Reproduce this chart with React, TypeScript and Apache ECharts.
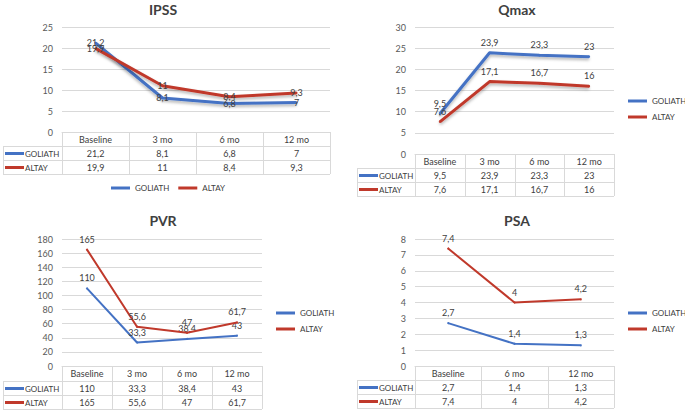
import React, { useEffect, useRef } from 'react';
import * as echarts from 'echarts';

const ipssCategories = ['Baseline', '3 mo', '6 mo', '12 mo'];
const ipssGoliath = [21.2, 8.1, 6.8, 7];
const ipssAltay = [19.9, 11, 8.4, 9.3];

const qmaxCategories = ['Baseline', '3 mo', '6 mo', '12 mo'];
const qmaxGoliath = [9.5, 23.9, 23.3, 23];
const qmaxAltay = [7.6, 17.1, 16.7, 16];

const pvrCategories = ['Baseline', '3 mo', '6 mo', '12 mo'];
const pvrGoliath = [110, 33.3, 38.4, 43];
const pvrAltay = [165, 55.6, 47, 61.7];

const psaCategories = ['Baseline', '6 mo', '12 mo'];
const psaGoliath = [2.7, 1.4, 1.3];
const psaAltay = [7.4, 4, 4.2];

const seriesNames = ['GOLIATH', 'ALTAY'];
const seriesColors = ['#4472C4', '#C0392B'];

const FONT = 'Lato, "Open Sans", sans-serif';
const TEXT = '#404040';
const GRID_LINE = '#d9d9d9';

const fmt = (v: number) => String(v).replace('.', ',');

type Panel = {
  title: string;
  cats: string[];
  data: number[][];
  yMax: number;
  yInterval: number;
  grid: { left: number; top: number; width: number; height: number };
  rows: number[];
  tableLeft: number;
  titleX: number;
  titleY: number;
  labelPos: string;
  lineWidth: number;
  shadow: boolean;
  legend: any;
};

const panels: Panel[] = [
  {
    title: 'IPSS', cats: ipssCategories, data: [ipssGoliath, ipssAltay], yMax: 25, yInterval: 5,
    grid: { left: 62, top: 27, width: 268, height: 105 }, rows: [132, 146, 160, 174], tableLeft: 3,
    titleX: 163, titleY: 9, labelPos: 'inside', lineWidth: 3, shadow: true,
    legend: { orient: 'horizontal', left: 111, top: 184 },
  },
  {
    title: 'Qmax', cats: qmaxCategories, data: [qmaxGoliath, qmaxAltay], yMax: 30, yInterval: 5,
    grid: { left: 415, top: 27, width: 199, height: 127 }, rows: [154, 168, 182, 196], tableLeft: 357,
    titleX: 517, titleY: 9, labelPos: 'top', lineWidth: 3, shadow: true,
    legend: { orient: 'vertical', left: 628, top: 97 },
  },
  {
    title: 'PVR', cats: pvrCategories, data: [pvrGoliath, pvrAltay], yMax: 180, yInterval: 20,
    grid: { left: 62, top: 239, width: 200, height: 127 }, rows: [366, 381, 395, 409], tableLeft: 3,
    titleX: 163, titleY: 220, labelPos: 'top', lineWidth: 2, shadow: false,
    legend: { orient: 'vertical', left: 276, top: 309 },
  },
  {
    title: 'PSA', cats: psaCategories, data: [psaGoliath, psaAltay], yMax: 8, yInterval: 1,
    grid: { left: 415, top: 239, width: 199, height: 127 }, rows: [366, 380, 394, 408], tableLeft: 357,
    titleX: 517, titleY: 220, labelPos: 'top', lineWidth: 2, shadow: false,
    legend: { orient: 'vertical', left: 628, top: 309 },
  },
];

function buildOption() {
  const grid = panels.map((p) => ({ ...p.grid, containLabel: false }));
  const xAxis = panels.map((p, i) => ({
    type: 'category',
    gridIndex: i,
    data: p.cats,
    boundaryGap: true,
    axisLine: { lineStyle: { color: GRID_LINE } },
    axisTick: { show: false },
    axisLabel: { color: TEXT, fontSize: 9, fontFamily: FONT, margin: 3, interval: 0 },
  }));
  const yAxis = panels.map((p, i) => ({
    type: 'value',
    gridIndex: i,
    min: 0,
    max: p.yMax,
    interval: p.yInterval,
    axisLine: { show: false },
    axisTick: { show: false },
    axisLabel: { color: '#595959', fontSize: 9, fontFamily: FONT, margin: 9 },
    splitLine: { lineStyle: { color: GRID_LINE, width: 1 } },
  }));
  const series: any[] = [];
  panels.forEach((p, i) => {
    p.data.forEach((d, s) => {
      series.push({
        type: 'line',
        name: seriesNames[s],
        xAxisIndex: i,
        yAxisIndex: i,
        data: d,
        symbol: 'circle',
        symbolSize: 2,
        showSymbol: true,
        color: seriesColors[s],
        itemStyle: { color: seriesColors[s] },
        lineStyle: {
          color: seriesColors[s],
          width: p.lineWidth,
          ...(p.shadow ? { shadowColor: 'rgba(0,0,0,0.3)', shadowBlur: 3, shadowOffsetY: 2 } : {}),
        },
        label: {
          show: true,
          position: p.labelPos,
          distance: 5,
          fontSize: 9,
          fontFamily: FONT,
          color: TEXT,
          formatter: (pr: any) => fmt(pr.value),
        },
        z: 3 + s,
      });
    });
  });

  const legend = panels.map((p) => ({
    ...p.legend,
    data: seriesNames,
    icon: 'rect',
    padding: 0,
    itemWidth: 19,
    itemHeight: 3,
    itemGap: p.legend.orient === 'vertical' ? 8 : 9,
    selectedMode: false,
    textStyle: { fontSize: 8, color: TEXT, fontFamily: FONT },
  }));

  const graphic: any[] = [];
  const line = (x1: number, y1: number, x2: number, y2: number) =>
    graphic.push({
      type: 'line',
      shape: { x1, y1, x2, y2 },
      style: { stroke: GRID_LINE, lineWidth: 1 },
      silent: true,
    });
  const text = (x: number, y: number, t: string, align: string, font: string) =>
    graphic.push({
      type: 'text',
      x,
      y,
      style: {
        text: t,
        fill: TEXT,
        font,
        textAlign: align,
        textVerticalAlign: 'middle',
        align,
        verticalAlign: 'middle',
      },
      silent: true,
    });

  panels.forEach((p) => {
    const gl = p.grid.left;
    const gr = p.grid.left + p.grid.width;
    const n = p.cats.length;
    const cw = p.grid.width / n;
    const [y0, y1, y2, y3] = p.rows;
    // title
    text(p.titleX, p.titleY, p.title, 'center', `bold 14px ${FONT}`);
    // table borders
    line(gl, y0 + 0.5, gr, y0 + 0.5);
    [y1, y2, y3].forEach((y) => line(p.tableLeft, y + 0.5, gr, y + 0.5));
    for (let k = 0; k <= n; k++) {
      const x = Math.round(gl + k * cw) + 0.5;
      line(x, y0, x, y3);
    }
    line(p.tableLeft + 0.5, y1, p.tableLeft + 0.5, y3);
    // rows
    const rowTops = [y1, y2];
    const rowBots = [y2, y3];
    p.data.forEach((d, s) => {
      const cy = (rowTops[s] + rowBots[s]) / 2 + 0.5;
      graphic.push({
        type: 'line',
        shape: { x1: p.tableLeft + 2, y1: cy, x2: p.tableLeft + 21, y2: cy },
        style: { stroke: seriesColors[s], lineWidth: 3 },
        silent: true,
      });
      text(p.tableLeft + 22, cy, seriesNames[s], 'left', `8px ${FONT}`);
      d.forEach((v, k) => {
        text(gl + (k + 0.5) * cw, cy, fmt(v), 'center', `9px ${FONT}`);
      });
    });
  });

  return {
    animation: false,
    backgroundColor: '#ffffff',
    textStyle: { fontFamily: FONT },
    grid,
    xAxis,
    yAxis,
    series,
    legend,
    graphic,
  };
}

export default function App() {
  const ref = useRef<HTMLDivElement>(null);
  useEffect(() => {
    if (!ref.current) return;
    const chart = echarts.init(ref.current, undefined, { renderer: 'svg' });
    chart.setOption(buildOption() as any);
    return () => chart.dispose();
  }, []);
  return (
    <div
      ref={ref}
      style={{ position: 'absolute', left: 0, top: 0, width: 685, height: 411, background: '#fff' }}
    />
  );
}
